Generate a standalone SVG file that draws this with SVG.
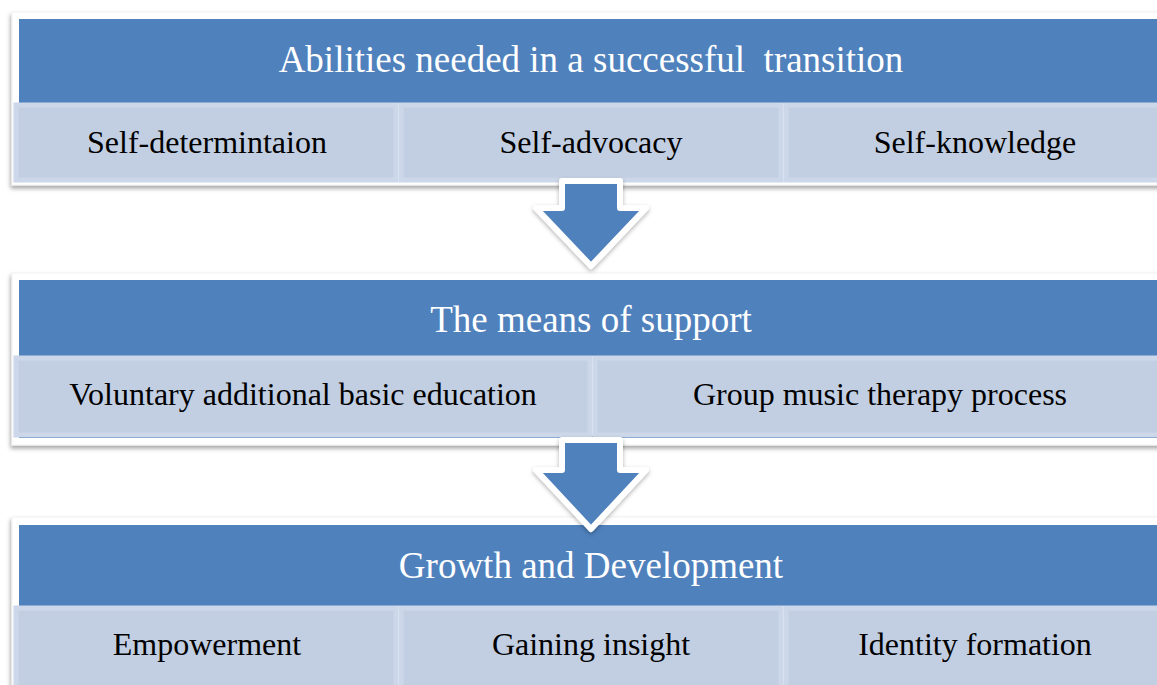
<svg xmlns="http://www.w3.org/2000/svg" width="1157" height="685" viewBox="0 0 1157 685">
<defs>
<filter id="sh" x="-5%" y="-10%" width="110%" height="130%">
<feDropShadow dx="-1" dy="3" stdDeviation="2.2" flood-color="#000" flood-opacity="0.35"/>
</filter>
<filter id="ash" x="-20%" y="-20%" width="140%" height="140%">
<feDropShadow dx="0" dy="2" stdDeviation="2" flood-color="#000" flood-opacity="0.3"/>
</filter>
<style>
.frame{fill:#fff;stroke:#f2f2f2;stroke-width:1}
.head{fill:#4f81bd}
.cell{fill:#c2cfe2;stroke:#ccd7e9;stroke-width:5}
.ht{font-family:'Liberation Serif',serif;font-size:37px;fill:#fff;text-anchor:middle;white-space:pre}
.ct{font-family:'Liberation Serif',serif;font-size:32px;fill:#000;text-anchor:middle}
.arrow{fill:#4f81bd;stroke:#fff;stroke-width:6;stroke-linejoin:round}
</style>
</defs>
<rect width="1157" height="685" fill="#fff"/>
<g id="box1">
<rect class="frame" x="12" y="12" width="1158" height="173" filter="url(#sh)"/>
<rect class="head" x="19" y="19" width="1144" height="84"/>
<text class="ht" x="591" y="72" xml:space="preserve">Abilities needed in a successful  transition</text>
<g id="cell1a"><rect class="cell" x="16" y="105" width="380" height="75"/><text class="ct" x="207" y="153">Self-determintaion</text></g>
<g id="cell1b"><rect class="cell" x="401" y="105" width="380" height="75"/><text class="ct" x="591" y="153">Self-advocacy</text></g>
<g id="cell1c"><rect class="cell" x="786" y="105" width="380" height="75"/><text class="ct" x="975" y="153">Self-knowledge</text></g>
</g>
<g id="box2">
<rect class="frame" x="12" y="273" width="1158" height="172" filter="url(#sh)"/>
<rect class="head" x="19" y="280" width="1144" height="76"/>
<text class="ht" x="591" y="332">The means of support</text>
<rect x="19" y="436" width="1144" height="2" fill="#4f81bd"/>
<g id="cell2a"><rect class="cell" x="16" y="358" width="574" height="77"/><text class="ct" x="303" y="405">Voluntary additional basic education</text></g>
<g id="cell2b"><rect class="cell" x="595" y="358" width="571" height="77"/><text class="ct" x="880" y="405">Group music therapy process</text></g>
</g>
<g id="box3">
<rect class="frame" x="12" y="517" width="1158" height="180" filter="url(#sh)"/>
<rect class="head" x="19" y="525" width="1144" height="81"/>
<text class="ht" x="591" y="578">Growth and Development</text>
<g id="cell3a"><rect class="cell" x="16" y="608" width="380" height="82"/><text class="ct" x="207" y="655">Empowerment</text></g>
<g id="cell3b"><rect class="cell" x="401" y="608" width="380" height="82"/><text class="ct" x="591" y="655">Gaining insight</text></g>
<g id="cell3c"><rect class="cell" x="786" y="608" width="380" height="82"/><text class="ct" x="975" y="655">Identity formation</text></g>
</g>
<g id="connectors">
<polygon class="arrow" filter="url(#ash)" points="562,181 620,181 620,208 646,208 591,266 536,208 562,208"/>
<polygon class="arrow" filter="url(#ash)" points="562,440 620,440 620,470 646,470 591,529 536,470 562,470"/>
</g>
</svg>
